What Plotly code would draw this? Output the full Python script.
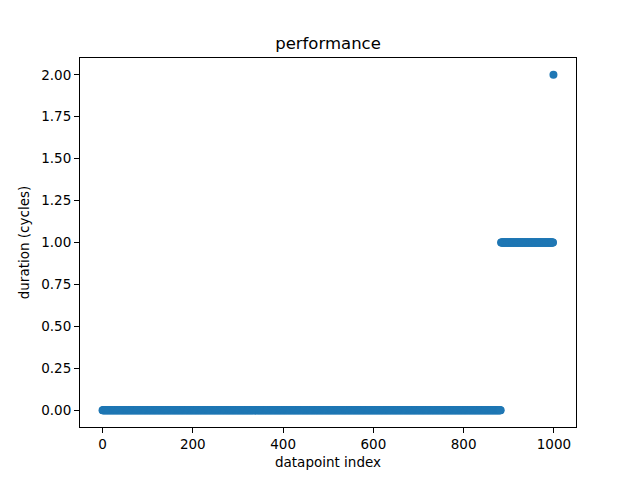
import numpy as np
import plotly.graph_objects as go

# Measured durations come in constant runs: value and how many datapoints share it
segment_values = [0, 1, 2]
segment_counts = [883, 116, 1]

y_ticks = [0.0, 0.25, 0.5, 0.75, 1.0, 1.25, 1.5, 1.75, 2.0]
x_ticks = [0, 200, 400, 600, 800, 1000]

duration = np.repeat(segment_values, segment_counts)
index = np.arange(len(duration))

fig = go.Figure()
fig.add_trace(
    go.Scatter(
        x=index,
        y=duration,
        mode="markers",
        marker=dict(color="#1f77b4", size=8, line=dict(width=0)),
        showlegend=False,
    )
)

axis_common = dict(
    showline=True,
    mirror=True,
    linecolor="black",
    linewidth=1,
    showgrid=False,
    zeroline=False,
    ticks="outside",
    ticklen=5,
    tickwidth=1,
    tickcolor="black",
    tickfont=dict(size=13.5, color="black"),
)

n = len(duration) - 1
fig.update_xaxes(
    range=[-0.05 * n, n * 1.05],
    tickvals=x_ticks,
    title=dict(text="datapoint index", font=dict(size=13.5, color="black"), standoff=6),
    **axis_common,
)
fig.update_yaxes(
    range=[-0.1, 2.1],
    tickvals=y_ticks,
    tickformat=".2f",
    title=dict(text="duration (cycles)", font=dict(size=13.5, color="black"), standoff=8),
    **axis_common,
)

# the page puts the figure 8px in from the top-left corner, so size it to fit
fig.update_layout(
    width=632,
    height=472,
    margin=dict(l=72, r=64, t=50, b=53),
    paper_bgcolor="white",
    plot_bgcolor="white",
    font=dict(family="DejaVu Sans", color="black"),
    title=dict(
        text="performance",
        x=0.5,
        xref="paper",
        xanchor="center",
        y=1 - 35 / 472,
        yanchor="middle",
        font=dict(size=16.5, color="black"),
    ),
)

fig.write_html("out.html")
